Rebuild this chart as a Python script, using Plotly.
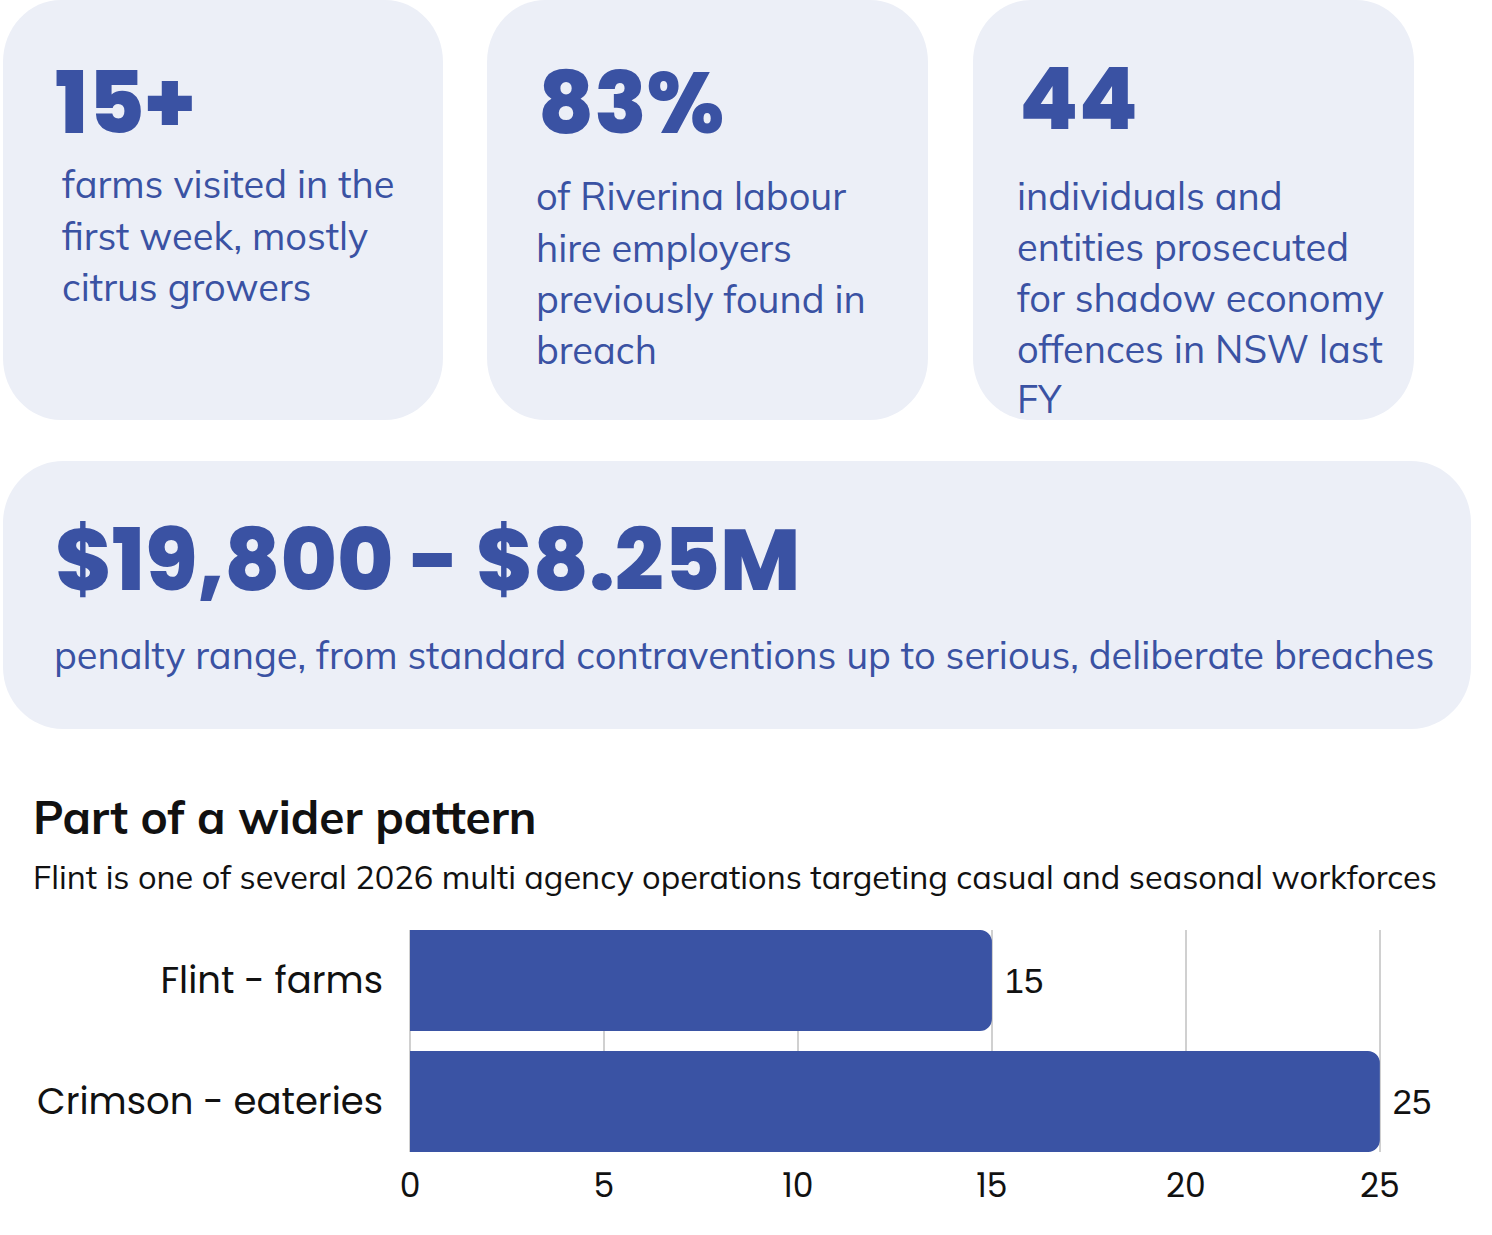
import plotly.graph_objects as go

# figure size in px (matches the browser window)
W, H = 1492, 1235

# stat cards
stat_values = ["15+", "83%", "44"]
stat_lines = [
    ["farms visited in the", "first week, mostly", "citrus growers"],
    ["of Riverina labour", "hire employers", "previously found in", "breach"],
    ["individuals and", "entities prosecuted", "for shadow economy",
     "offences in NSW last", "FY"],
]
range_value = "$19,800 - $8.25M"
range_caption = "penalty range, from standard contraventions up to serious, deliberate breaches"

# bar chart
chart_title = "Part of a wider pattern"
chart_subtitle = ("Flint is one of several 2026 multi agency operations "
                  "targeting casual and seasonal workforces")
operations = ["Flint - farms", "Crimson - eateries"]
counts = [15, 25]
x_ticks = [0, 5, 10, 15, 20, 25]

BLUE = "#3A52A3"
CARD = "#ECEFF7"
BODY_FONT = "Mulish, Muli, Noto Sans"
NUM_FONT = "Poppins, Inter"


def px(x):
    return x / W


def py(y):
    return 1 - y / H


def rounded_rect(x0, y0, x1, y1, rx, ry):
    # rounded rectangle in pixel coords -> svg path in paper coords
    kx, ky = 0.5523 * rx, 0.5523 * ry
    pts = [
        ("M", [(x0 + rx, y0)]),
        ("L", [(x1 - rx, y0)]),
        ("C", [(x1 - rx + kx, y0), (x1, y0 + ry - ky), (x1, y0 + ry)]),
        ("L", [(x1, y1 - ry)]),
        ("C", [(x1, y1 - ry + ky), (x1 - rx + kx, y1), (x1 - rx, y1)]),
        ("L", [(x0 + rx, y1)]),
        ("C", [(x0 + rx - kx, y1), (x0, y1 - ry + ky), (x0, y1 - ry)]),
        ("L", [(x0, y0 + ry)]),
        ("C", [(x0, y0 + ry - ky), (x0 + rx - kx, y0), (x0 + rx, y0)]),
    ]
    path = ""
    for cmd, coords in pts:
        path += cmd + " ".join(f"{px(a):.5f},{py(b):.5f}" for a, b in coords) + " "
    return path + "Z"


fig = go.Figure()

fig.add_trace(go.Bar(
    x=counts, y=operations, orientation="h",
    marker=dict(color="#3A53A4", line=dict(width=0)),
    text=counts, texttemplate=" %{x}", textposition="outside",
    textfont=dict(family="Liberation Sans, Arial", size=35, color="#111111"),
    cliponaxis=False, hoverinfo="skip",
))

shapes = []
cards = [(3, 0, 443, 420), (487, 0, 928, 420), (973, 0, 1414, 420)]
for c in cards:
    shapes.append(dict(type="path", xref="paper", yref="paper", layer="below",
                       path=rounded_rect(*c, 58, 62), fillcolor=CARD, line=dict(width=0)))
shapes.append(dict(type="path", xref="paper", yref="paper", layer="below",
                   path=rounded_rect(3, 461, 1471, 729, 60, 62), fillcolor=CARD,
                   line=dict(width=0)))

annotations = []


def label(x, y, text, size, color=BLUE, family=BODY_FONT, weight="normal"):
    annotations.append(dict(
        x=px(x), y=py(y), xref="paper", yref="paper", xanchor="left", yanchor="middle",
        text=text, showarrow=False,
        font=dict(family=family, size=size, color=color, weight=weight),
    ))


num_pos = [(53, 103), (536, 103), (1017, 99)]
line_pos = [(60, [184, 236, 287]), (534, [196, 248, 299, 350]),
            (1015, [196, 247, 298, 349, 399])]
for val, (nx, ny), lines, (lx, ys) in zip(stat_values, num_pos, stat_lines, line_pos):
    label(nx, ny, val, 86, family=NUM_FONT, weight=800)
    for t, yy in zip(lines, ys):
        label(lx, yy, t, 38)

label(53, 560, range_value, 86, family=NUM_FONT, weight=800)
label(52, 655, range_caption, 38)

label(31, 817, chart_title, 46, color="#111111", weight="bold")
label(31, 876, chart_subtitle, 32.5, color="#111111")

# y range chosen so bars touch the plot edges like the original
fig.update_layout(
    width=W, height=H,
    margin=dict(l=0, r=0, t=0, b=0, autoexpand=False),
    paper_bgcolor="white", plot_bgcolor="white",
    showlegend=False, bargap=0.165, barcornerradius=12,
    shapes=shapes, annotations=annotations,
    xaxis=dict(domain=[px(410), px(1381)], range=[0, 25.03], tickvals=x_ticks,
               showgrid=True, gridcolor="#D0D0D0", gridwidth=1.5,
               zeroline=True, zerolinecolor="#D0D0D0", zerolinewidth=1.5,
               showline=False, ticks="", ticklabelstandoff=11,
               tickfont=dict(family="Poppins, Inter", size=33, color="#111111")),
    yaxis=dict(domain=[py(1152), py(930)], range=[1.4174, -0.4174],
               showgrid=False, zeroline=False, showline=False, ticks="",
               ticklabelstandoff=26,
               tickfont=dict(family="Poppins, Inter", size=37, color="#111111")),
)

fig.write_html("out.html", config={"displayModeBar": False},
               post_script="document.body.style.margin='0';")
